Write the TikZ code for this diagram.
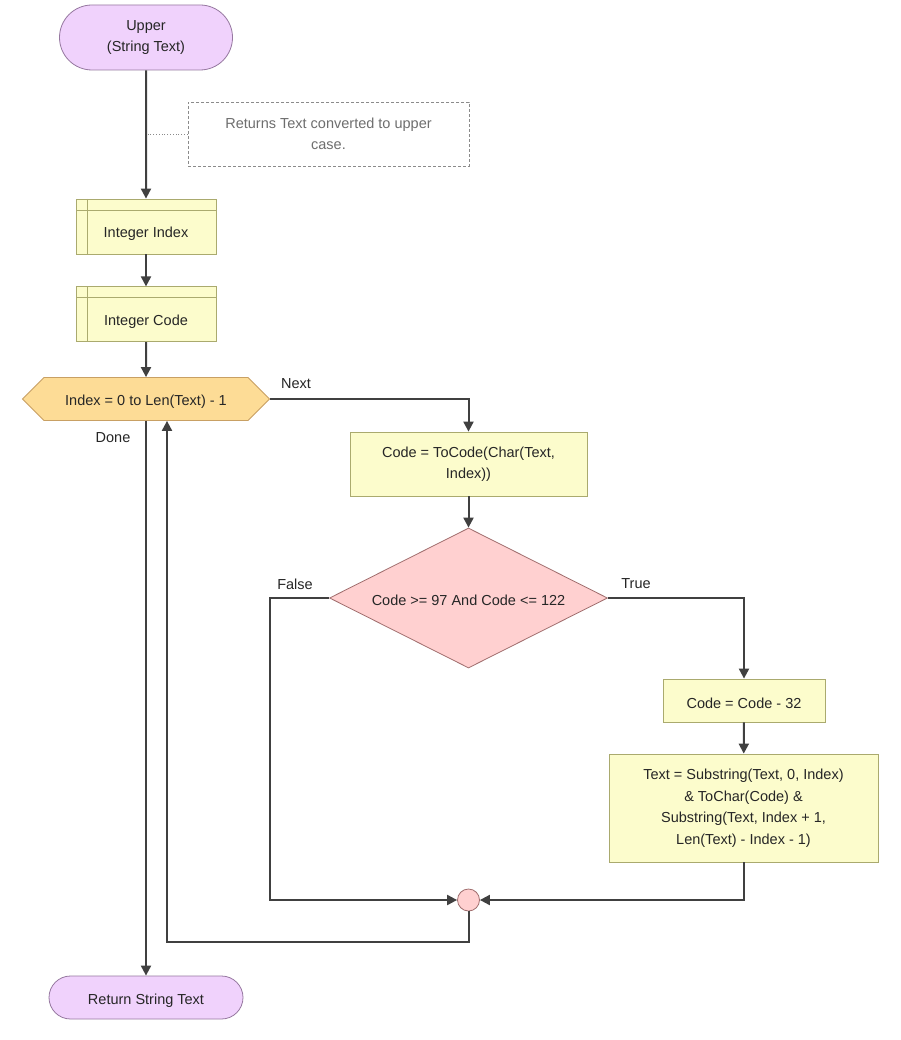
\documentclass[tikz,border=0pt]{standalone}
\usepackage{fontspec}
\setmainfont{Liberation Sans}
\usepackage{tikz}
\usetikzlibrary{positioning, arrows.meta, shapes.geometric, shapes.misc,
                shapes.symbols, calc}
\definecolor{flowline}{RGB}{64, 64, 64}
\definecolor{termfill}{RGB}{240, 210, 252}
\definecolor{termline}{RGB}{150, 120, 160}
\definecolor{boxfill}{RGB}{252, 252, 204}
\definecolor{boxline}{RGB}{170, 170, 110}
\definecolor{loopfill}{RGB}{253, 220, 150}
\definecolor{loopline}{RGB}{200, 160, 100}
\definecolor{condfill}{RGB}{255, 208, 208}
\definecolor{condline}{RGB}{160, 110, 110}
\definecolor{notegray}{RGB}{110, 110, 110}
\tikzset{
  base/.style={
    line width=0.8pt, inner sep=0pt, align=center,
    font=\fontsize{14.5}{21.5}\selectfont, text=black!85,
    execute at begin node={\rule{0pt}{16pt}},
  },
  term/.style={
    base, rounded rectangle, draw=termline, fill=termfill,
  },
  stmt/.style={
    base, draw=boxline, fill=boxfill,
  },
  decl/.style={
    base, draw=boxline, fill=boxfill,
    minimum width=140pt, minimum height=55pt,
    text height=26pt, text depth=3pt,
    path picture={
      \draw[boxline, line width=0.8pt]
        ([yshift=-11pt]path picture bounding box.north west) --
        ([yshift=-11pt]path picture bounding box.north east);
      \draw[boxline, line width=0.8pt]
        ([xshift=11pt]path picture bounding box.north west) --
        ([xshift=11pt]path picture bounding box.south west);
    },
  },
  loophex/.style={
    base, signal, signal to=west and east, signal pointer angle=90,
    draw=loopline, fill=loopfill,
    minimum width=247pt, minimum height=43pt,
  },
  cond/.style={
    base, diamond, aspect=2, draw=condline, fill=condfill,
    minimum width=278pt, minimum height=140pt,
  },
  joint/.style={
    circle, draw=condline, fill=condfill, line width=0.8pt,
    minimum size=22pt, inner sep=0pt,
  },
  note/.style={
    base, draw=notegray!80, dashed, dash pattern=on 3pt off 2pt,
    text=notegray, minimum width=281pt, minimum height=64pt,
  },
  flow/.style={draw=flowline, line width=2pt, -{Triangle[length=10pt, width=10pt]}},
  link/.style={draw=notegray!80, line width=0.8pt, dotted},
  lbl/.style={font=\fontsize{14.5}{16}\selectfont, text=black!85, inner sep=1pt},
}

\begin{document}
\begin{tikzpicture}[x=1pt, y=-1pt]

\fill[white] (0,0) rectangle (900,1040);
\useasboundingbox (0,0) rectangle (900,1040);

% left column
\node[term, minimum width=173pt, minimum height=65pt] (start) at (146,37.5)
  {Upper\\(String Text)};
\node[decl] (idx) at (146,226.5) {Integer Index};
\node[decl, below=32pt of idx] (code) {Integer Code};
\node[loophex] (loop) at (146,399) {Index = 0 to Len(Text) - 1};
\node[term, minimum width=194pt, minimum height=43pt] (ret) at (146,997.5)
  {Return String Text};

% comment
\node[note] (comment) at (328.5,134) {Returns Text converted to upper\\case.};
\coordinate (noteend) at (148,134);

% loop body
\node[stmt, minimum width=237pt, minimum height=64pt] (tocode) at (468.5,464)
  {Code = ToCode(Char(Text,\\Index))};
\node[cond] (test) at (468.5,598) {Code >= 97 And Code <= 122};
\node[stmt, minimum width=162pt, minimum height=43pt] (sub) at (744,700.5)
  {Code = Code - 32};
\node[stmt, minimum width=269pt, minimum height=108pt] (assign) at (743.5,808)
  {Text = Substring(Text, 0, Index)\\\& ToChar(Code) \&\\Substring(Text, Index + 1,\\Len(Text) - Index - 1)};
\node[joint] (merge) at (468.5,900) {};
\coordinate (back) at (167,942);

% labels
\node[lbl] (nextlbl) at (296,384) {Next};
\node[lbl] (donelbl) at (113,438) {Done};
\node[lbl] (falselbl) at (295,584) {False};
\node[lbl] (truelbl) at (636,584) {True};

% connectors
\draw[flow] (start) -- (idx);
\draw[link] (comment.west) -- (noteend);
\draw[flow] (idx) -- (code);
\draw[flow] (code) -- (loop);
\draw[flow] (loop.east) -| (tocode.north);
\draw[flow] (loop.south) -- (ret.north);
\draw[flow] (tocode) -- (test);
\draw[flow] (test.west) -- (test.west -| loop.east) |- (merge.west);
\draw[flow] (test.east) -| (sub.north);
\draw[flow] (sub) -- (assign);
\draw[flow] (assign.south) |- (merge.east);
\draw[flow] (merge.south) |- (back) -- (back |- loop.south);

\end{tikzpicture}
\end{document}
